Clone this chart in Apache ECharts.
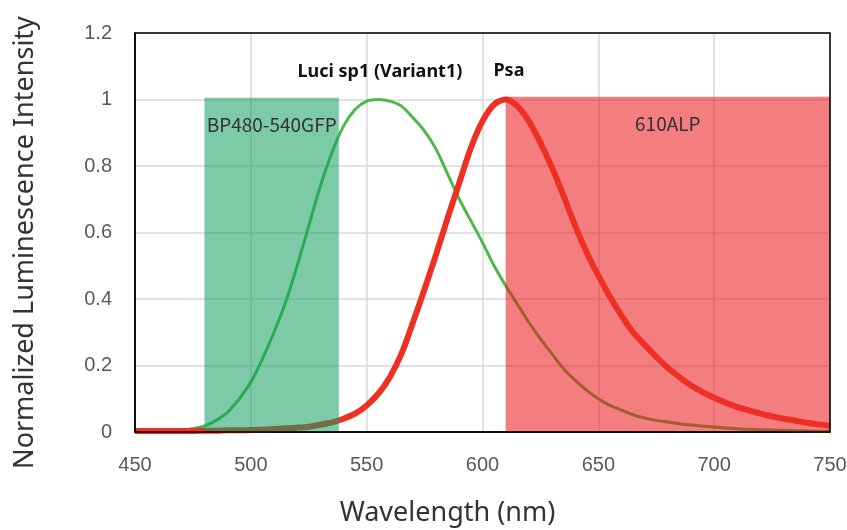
<html>
  <head>
    <meta charset="utf-8" />
    <title>Luminescence spectra</title>
  </head>
  <body style="margin:0">
    <div id="chart" style="width:847px;height:530px"></div>
    <script src="https://cdn.jsdelivr.net/npm/echarts@6/dist/echarts.min.js"></script>
    <script type="text/javascript">
      // wavelengths (nm), one sample every 5 nm
      var wavelength = [
        450, 455, 460, 465, 470, 475, 480, 485, 490, 495, 500, 505, 510, 515,
        520, 525, 530, 535, 540, 545, 550, 555, 560, 565, 570, 575, 580, 585,
        590, 595, 600, 605, 610, 615, 620, 625, 630, 635, 640, 645, 650, 655,
        660, 665, 670, 675, 680, 685, 690, 695, 700, 705, 710, 715, 720, 725,
        730, 735, 740, 745, 750
      ];
      var luci = [
        0, 0.001, 0.002, 0.004, 0.006, 0.01, 0.018, 0.035, 0.06, 0.1, 0.15,
        0.22, 0.3, 0.39, 0.5, 0.62, 0.74, 0.84, 0.92, 0.97, 0.995, 1.0, 0.995,
        0.98, 0.945, 0.905, 0.85, 0.775, 0.7, 0.635, 0.57, 0.5, 0.44, 0.385,
        0.33, 0.28, 0.235, 0.19, 0.155, 0.125, 0.1, 0.08, 0.066, 0.052, 0.042,
        0.035, 0.03, 0.025, 0.021, 0.018, 0.015, 0.012, 0.01, 0.008, 0.007,
        0.006, 0.005, 0.004, 0.003, 0.002, 0.002
      ];
      var psa = [
        0.003, 0.003, 0.003, 0.003, 0.003, 0.003, 0.004, 0.004, 0.005, 0.005,
        0.006, 0.007, 0.009, 0.011, 0.013, 0.016, 0.022, 0.029, 0.04, 0.055,
        0.08, 0.115, 0.165, 0.235, 0.33, 0.43, 0.535, 0.645, 0.75, 0.855, 0.935,
        0.985, 1.0, 0.98, 0.935, 0.87, 0.795, 0.71, 0.62, 0.54, 0.47, 0.407,
        0.35, 0.3, 0.262, 0.226, 0.193, 0.165, 0.14, 0.12, 0.103, 0.088, 0.075,
        0.065, 0.055, 0.047, 0.04, 0.034, 0.028, 0.023, 0.019
      ];
      // filter bands
      var bandNames = ["BP480-540GFP", "610ALP"];
      var bandStart = [480, 610];
      var bandEnd = [538, 750];
      var bandTop = [1.005, 1.008];

      var pairs = function (ys) {
        return wavelength.map(function (x, i) {
          return [x, ys[i]];
        });
      };

      var bandColors = ["rgba(17,159,97,0.55)", "rgba(235,18,24,0.55)"];
      // green filter sits above the red curve, red filter below it
      var bandZ = [7, 4];
      var bandSeries = bandNames.map(function (name, i) {
        return {
          name: name,
          type: "line",
          data: [],
          z: bandZ[i],
          markArea: {
            silent: true,
            z: bandZ[i],
            label: {
              show: true,
              position: "insideTop",
              distance: 17,
              fontFamily: "Noto Sans CJK JP",
              fontSize: 19,
              color: "#333"
            },
            itemStyle: { color: bandColors[i] },
            data: [
              [
                { name: name, coord: [bandStart[i], 0] },
                { coord: [bandEnd[i], bandTop[i]] }
              ]
            ]
          }
        };
      });

      var chart = echarts.init(document.getElementById("chart"));
      var tickFont = {
        fontFamily: "Liberation Sans",
        fontSize: 20,
        color: "#595959"
      };
      var peakLabel = {
        show: true,
        formatter: "{b}",
        fontFamily: "Noto Sans",
        fontWeight: "bold",
        fontSize: 18,
        color: "#111"
      };
      chart.setOption({
        animation: false,
        grid: {
          left: 135,
          right: 17,
          top: 33,
          bottom: 98,
          outerBoundsMode: "none",
          show: true,
          borderColor: "#000",
          borderWidth: 1.5,
          z: 10
        },
        xAxis: {
          type: "value",
          min: 450,
          max: 750,
          interval: 50,
          name: "Wavelength (nm)",
          nameLocation: "middle",
          nameGap: 68,
          nameTextStyle: {
            fontFamily: "Noto Sans",
            fontSize: 27,
            color: "#333",
            padding: [0, 70, 0, 0]
          },
          axisLine: { lineStyle: { color: "#000", width: 1.5 } },
          axisTick: { show: false },
          axisLabel: Object.assign({ margin: 23 }, tickFont),
          splitLine: { lineStyle: { color: "#d9d9d9", width: 1.5 } }
        },
        yAxis: {
          type: "value",
          min: 0,
          max: 1.2,
          interval: 0.2,
          name: "Normalized Luminescence Intensity",
          nameLocation: "middle",
          nameGap: 96,
          nameTextStyle: {
            fontFamily: "Noto Sans",
            fontSize: 27,
            color: "#333",
            padding: [0, 20, 0, 0]
          },
          axisLine: { show: true, lineStyle: { color: "#000", width: 1.5 } },
          axisTick: { show: false },
          axisLabel: Object.assign(
            {
              margin: 23,
              formatter: function (v) {
                return +v.toFixed(1) + "";
              }
            },
            tickFont
          ),
          splitLine: { lineStyle: { color: "#d9d9d9", width: 1.5 } }
        },
        series: [
          {
            name: "Luci sp1 (Variant1)",
            type: "line",
            data: pairs(luci),
            smooth: 0.3,
            showSymbol: false,
            color: "#4cb848",
            lineStyle: { width: 3 },
            z: 2,
            markPoint: {
              symbol: "circle",
              symbolSize: 0,
              label: peakLabel,
              data: [{ name: "Luci sp1 (Variant1)", coord: [555.7, 1.083] }]
            }
          },
          {
            name: "Psa",
            type: "line",
            data: pairs(psa),
            smooth: 0.3,
            showSymbol: false,
            color: "#ee3024",
            lineStyle: { width: 6 },
            z: 5,
            markPoint: {
              symbol: "circle",
              symbolSize: 0,
              label: peakLabel,
              data: [{ name: "Psa", coord: [611.4, 1.086] }]
            }
          }
        ].concat(bandSeries)
      });
    </script>
  </body>
</html>
